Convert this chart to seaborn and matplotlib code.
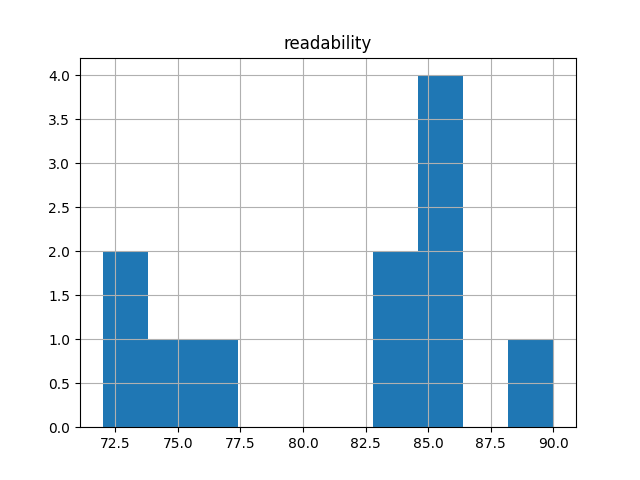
import matplotlib
matplotlib.use("Agg")
import matplotlib.pyplot as plt
import seaborn as sns
import pandas as pd

# readability scores (11 texts)
readability = [72.0, 73.0, 74.5, 76.5, 83.5, 84.0, 85.0, 85.2, 85.5, 86.0, 90.0]
df = pd.DataFrame({"readability": readability})

fig, ax = plt.subplots(figsize=(6.4, 4.8), dpi=100)
sns.histplot(data=df, x="readability", bins=10, color="#1f77b4", alpha=1,
             edgecolor="none", linewidth=0, ax=ax)
ax.grid(True)
ax.set_title("readability")
ax.set_xlabel("")
ax.set_ylabel("")
ax.set_xticks([72.5, 75.0, 77.5, 80.0, 82.5, 85.0, 87.5, 90.0])
ax.set_yticks([0.0, 0.5, 1.0, 1.5, 2.0, 2.5, 3.0, 3.5, 4.0])

plt.savefig("out.png")
plt.close()
